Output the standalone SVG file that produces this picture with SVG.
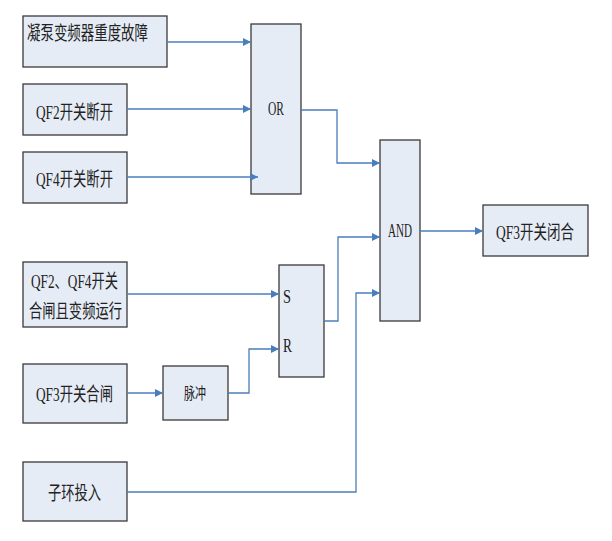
<svg xmlns="http://www.w3.org/2000/svg" width="612" height="541" viewBox="0 0 612 541">
<style>
.b{fill:#E6ECF6;stroke:#3a3a3a;stroke-width:1.3}
.t{font-family:"Liberation Serif","Noto Sans CJK SC",serif;font-size:19px;fill:#222}
.s{font-family:"Liberation Serif","Noto Sans CJK SC",serif;font-size:19px;fill:#222}
.c{fill:none;stroke:#4A7EBB;stroke-width:1.3}
</style>
<defs>
<marker id="a" viewBox="0 0 8 8" refX="8" refY="4" markerWidth="8" markerHeight="8" markerUnits="userSpaceOnUse" orient="auto">
<path d="M0,0 L8,4 L0,8 Z" fill="#4A7EBB"/>
</marker>
</defs>
<rect width="612" height="541" fill="#fff"/>
<g id="n1"><rect class="b" x="23" y="16" width="144" height="51"/><text class="t" x="27" y="40" textLength="121" lengthAdjust="spacingAndGlyphs">凝泵变频器重度故障</text></g>
<g id="n2"><rect class="b" x="23" y="84" width="104" height="51"/><text class="t" x="36" y="119" textLength="77" lengthAdjust="spacingAndGlyphs">QF2开关断开</text></g>
<g id="n3"><rect class="b" x="23" y="152" width="104" height="51"/><text class="t" x="36" y="186" textLength="77" lengthAdjust="spacingAndGlyphs">QF4开关断开</text></g>
<g id="or"><rect class="b" x="251" y="24" width="50" height="170"/><text class="s" x="268" y="115" textLength="16" lengthAdjust="spacingAndGlyphs">OR</text></g>
<g id="and"><rect class="b" x="380" y="140" width="40" height="181"/><text class="s" x="388" y="237" textLength="24" lengthAdjust="spacingAndGlyphs">AND</text></g>
<g id="out"><rect class="b" x="483" y="205" width="105" height="51"/><text class="t" x="496" y="239" textLength="78" lengthAdjust="spacingAndGlyphs">QF3开关闭合</text></g>
<g id="n4"><rect class="b" x="23" y="262" width="104" height="65"/><text class="t" x="31" y="288" textLength="87" lengthAdjust="spacingAndGlyphs">QF2、QF4开关</text><text class="t" x="29" y="318" textLength="93" lengthAdjust="spacingAndGlyphs">合闸且变频运行</text></g>
<g id="sr"><rect class="b" x="279" y="265" width="45" height="112"/><text class="s" x="283" y="303" textLength="8" lengthAdjust="spacingAndGlyphs">S</text><text class="s" x="283" y="352" textLength="9" lengthAdjust="spacingAndGlyphs">R</text></g>
<g id="n5"><rect class="b" x="23" y="364" width="104" height="59"/><text class="t" x="36" y="401" textLength="77" lengthAdjust="spacingAndGlyphs">QF3开关合闸</text></g>
<g id="pulse"><rect class="b" x="163" y="366" width="65" height="54"/><text class="s" x="184" y="399" textLength="22" lengthAdjust="spacingAndGlyphs" style="font-size:16px">脉冲</text></g>
<g id="n6"><rect class="b" x="23" y="462" width="104" height="59"/><text class="t" x="48" y="500" textLength="53" lengthAdjust="spacingAndGlyphs">子环投入</text></g>
<g id="connectors">
<path class="c" d="M167,42 H251" marker-end="url(#a)"/>
<path class="c" d="M127,109 H251" marker-end="url(#a)"/>
<path class="c" d="M127,177 H258" marker-end="url(#a)"/>
<path class="c" d="M301,110 H337 V163 H380" marker-end="url(#a)"/>
<path class="c" d="M324,321 H338 V237 H380" marker-end="url(#a)"/>
<path class="c" d="M127,492 H356 V293 H380" marker-end="url(#a)"/>
<path class="c" d="M420,231 H483" marker-end="url(#a)"/>
<path class="c" d="M127,294 H279" marker-end="url(#a)"/>
<path class="c" d="M228,393 H249 V349 H279" marker-end="url(#a)"/>
<path class="c" d="M127,393 H163" marker-end="url(#a)"/>
</g>
</svg>
